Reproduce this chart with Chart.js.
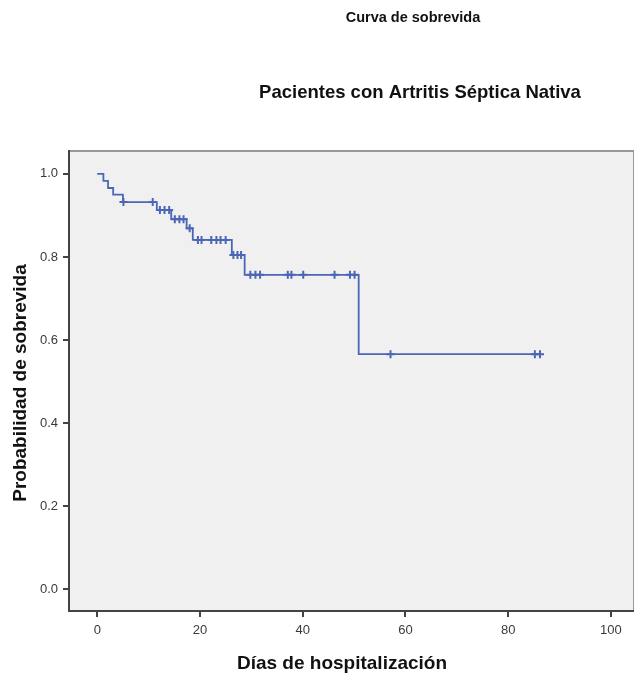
<!DOCTYPE html>
<html>
<head>
<meta charset="utf-8">
<script src="https://cdn.jsdelivr.net/npm/chart.js@4/dist/chart.umd.min.js"></script>
<style>
  html, body { margin: 0; padding: 0; background: #ffffff; }
  #wrap { position: relative; width: 634px; height: 677px; }
</style>
</head>
<body>
<div id="wrap"><canvas id="c" width="634" height="677"></canvas></div>
<script>
// ---- data ----
const chartTitle = "Curva de sobrevida";
const chartSubtitle = "Pacientes con Artritis Séptica Nativa";
const xAxisTitle = "Días de hospitalización";
const yAxisTitle = "Probabilidad de sobrevida";

// Kaplan-Meier steps: time of each drop and survival after it (last point = end of follow-up)
const stepTimes = [0, 1.2, 2.1, 3.1, 5.0, 11.6, 14.4, 17.4, 18.6, 26.2, 28.7, 50.9, 86.5];
const stepSurv  = [1.000, 0.983, 0.966, 0.950, 0.932, 0.913, 0.891, 0.869, 0.841, 0.805, 0.757, 0.566, 0.566];

// censored observations
const censorTimes = [5.1, 10.8, 12.2, 13.1, 14.0, 15.1, 16.0, 16.8, 18.0,
                     19.6, 20.3, 22.2, 23.2, 24.0, 25.0,
                     26.5, 27.3, 28.0,
                     29.8, 30.8, 31.7, 37.1, 37.8, 40.1, 46.2, 49.2, 50.1,
                     57.1, 85.2, 86.2];
const censorSurv  = [0.932, 0.932, 0.913, 0.913, 0.913, 0.891, 0.891, 0.891, 0.869,
                     0.841, 0.841, 0.841, 0.841, 0.841, 0.841,
                     0.805, 0.805, 0.805,
                     0.757, 0.757, 0.757, 0.757, 0.757, 0.757, 0.757, 0.757, 0.757,
                     0.566, 0.566, 0.566];

const xTicks = [0, 20, 40, 60, 80, 100];
const yTicks = [0.0, 0.2, 0.4, 0.6, 0.8, 1.0];

// ---- build datasets ----
const stepData = stepTimes.map((t, i) => ({ x: t, y: stepSurv[i] }));
const censorData = censorTimes.map((t, i) => ({ x: t, y: censorSurv[i] }));

const LINE = '#4b66b6';
const FONT = '"Liberation Sans", Arial, sans-serif';

const frame = {
  id: 'frame',
  beforeDraw(chart) {
    const { ctx, chartArea: a } = chart;
    ctx.save();
    ctx.fillStyle = '#f0f0f0';
    ctx.fillRect(a.left, a.top, a.right - a.left, a.bottom - a.top);
    ctx.strokeStyle = '#999999';
    ctx.lineWidth = 2;
    ctx.beginPath();
    ctx.moveTo(a.left, a.top);
    ctx.lineTo(a.right, a.top);
    ctx.lineTo(a.right, a.bottom);
    ctx.stroke();
    ctx.restore();
  },
  afterDraw(chart) {
    const { ctx } = chart;
    ctx.save();
    ctx.fillStyle = '#111';
    ctx.textAlign = 'center';
    ctx.textBaseline = 'middle';
    ctx.font = 'bold 14.5px ' + FONT;
    ctx.fillText(chartTitle, 413, 18);
    ctx.font = 'bold 18.5px ' + FONT;
    ctx.fillText(chartSubtitle, 420, 93);
    ctx.font = 'bold 19px ' + FONT;
    ctx.fillText(xAxisTitle, 342, 664);
    ctx.translate(21, 383);
    ctx.rotate(-Math.PI / 2);
    ctx.font = 'bold 19px ' + FONT;
    ctx.fillText(yAxisTitle, 0, 0);
    ctx.restore();
  }
};

new Chart(document.getElementById('c'), {
  type: 'scatter',
  data: {
    datasets: [
      {
        label: 'Función de supervivencia',
        data: stepData,
        showLine: true,
        stepped: 'before',
        borderColor: LINE,
        borderWidth: 1.8,
        pointRadius: 0,
        fill: false,
        order: 2
      },
      {
        label: 'Censurado',
        data: censorData,
        showLine: false,
        pointStyle: 'cross',
        pointRadius: 4,
        pointBorderWidth: 2,
        borderColor: LINE,
        backgroundColor: LINE,
        order: 1
      }
    ]
  },
  options: {
    responsive: false,
    animation: false,
    devicePixelRatio: 1,
    layout: { autoPadding: false, padding: { top: 151, left: 0, right: 0, bottom: 0 } },
    plugins: {
      legend: { display: false },
      title: { display: false },
      tooltip: { enabled: false }
    },
    scales: {
      x: {
        type: 'linear',
        min: -5.5,
        max: 104.5,
        afterBuildTicks(scale) { scale.ticks = xTicks.map(v => ({ value: v })); },
        afterFit(scale) { scale.height = 66; },
        border: { display: true, color: '#444', width: 2 },
        grid: { drawOnChartArea: false, drawTicks: true, tickLength: 6, color: '#444', lineWidth: 2 },
        ticks: {
          color: '#3a3a3a',
          padding: 6,
          maxRotation: 0,
          font: { family: FONT, size: 13 },
          callback: v => String(v)
        }
      },
      y: {
        type: 'linear',
        min: -0.052,
        max: 1.055,
        afterBuildTicks(scale) { scale.ticks = yTicks.map(v => ({ value: v })); },
        afterFit(scale) { scale.width = 69; },
        border: { display: true, color: '#444', width: 2 },
        grid: { drawOnChartArea: false, drawTicks: true, tickLength: 6, color: '#444', lineWidth: 2 },
        ticks: {
          color: '#3a3a3a',
          padding: 5,
          font: { family: FONT, size: 13 },
          callback: v => Number(v).toFixed(1)
        }
      }
    }
  },
  plugins: [frame]
});
</script>
</body>
</html>
